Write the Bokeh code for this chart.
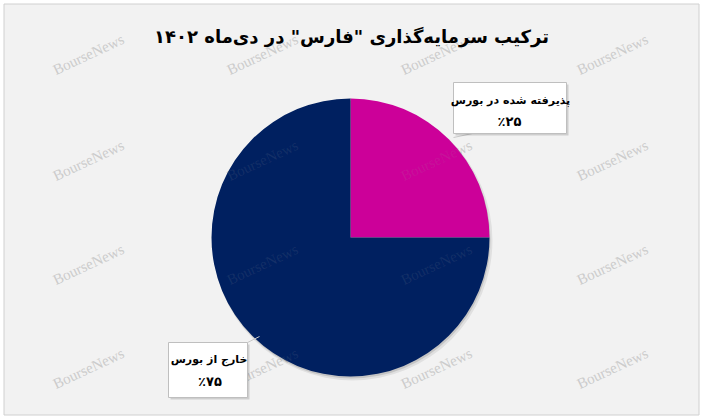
import math
from bokeh.plotting import figure
from bokeh.models import Range1d
from bokeh.core.properties import value
from bokeh.embed import file_html
from bokeh.resources import INLINE

# ---- data ----
title_text = 'ترکیب سرمایه‌گذاری "فارس" در دی‌ماه ۱۴۰۲'
categories = ["پذیرفته شده در بورس", "خارج از بورس"]
values = [25, 75]
pct_labels = ["٪۲۵", "٪۷۵"]
colors = ["#CC0099", "#002060"]
watermark = "BourseNews"

W, H = 702, 420
p = figure(width=W, height=H, output_backend="svg", toolbar_location=None,
           x_range=Range1d(0, W), y_range=Range1d(0, H),
           min_border=0, min_border_left=0, min_border_right=0,
           min_border_top=0, min_border_bottom=0)
p.axis.visible = False
p.grid.visible = False
p.background_fill_color = "white"
p.border_fill_color = "white"
p.outline_line_color = None


def Y(ry):
    return H - ry


# chart area with border
p.quad(left=[3.5], right=[698.5], top=[Y(3.5)], bottom=[Y(414.5)],
       fill_color="#f2f2f2", line_color="#d0d0d0", line_width=1)

# watermarks (under)
wx, wy = [], []
for ry in [54, 160, 264, 368]:
    for rx in [88, 262, 436, 612]:
        wx.append(rx)
        wy.append(Y(ry))
p.text(x=wx, y=wy, text=[watermark] * len(wx), angle=math.radians(25),
       text_font=value("Liberation Serif"), text_font_size="15px",
       text_color="#d3d3d3", text_align="center", text_baseline="middle")

# pie
cx, cy, r = 350, Y(237), 139
p.circle(x=[cx + 2], y=[cy - 3], radius=r + 1, fill_color="black",
         fill_alpha=0.07, line_color=None)
p.circle(x=[cx + 1], y=[cy - 2], radius=r, fill_color="black",
         fill_alpha=0.12, line_color=None)
total = sum(values)
start = math.pi / 2
for v, c in zip(values, colors):
    end = start - 2 * math.pi * v / total
    p.wedge(x=[cx], y=[cy], radius=r, start_angle=end, end_angle=start,
            direction="anticlock", fill_color=c, line_color=None)
    start = end

# watermarks (over, faint)
p.text(x=wx, y=wy, text=[watermark] * len(wx), angle=math.radians(25),
       text_font=value("Liberation Serif"), text_font_size="15px",
       text_color="#a0a0a0", text_alpha=0.12, text_align="center",
       text_baseline="middle")

# leader lines
p.line(x=[453, 472], y=[Y(137), Y(133)], line_color="#c8c8c8", line_width=1)
p.line(x=[247, 259], y=[Y(342), Y(336)], line_color="#c8c8c8", line_width=1)

# label boxes
boxes = [(453, 566, 82, 133), (168, 247, 342, 397)]
for (l, rr, t, b) in boxes:
    p.quad(left=[l + 2], right=[rr + 2], top=[Y(t + 2)], bottom=[Y(b + 2)],
           fill_color="black", fill_alpha=0.15, line_color=None)
    p.quad(left=[l], right=[rr], top=[Y(t)], bottom=[Y(b)],
           fill_color="white", line_color="#bfbfbf", line_width=1)

lx1 = [510, 208.5]
lx2 = [509, 209.5]
ly1 = [Y(100), Y(359)]
ly2 = [Y(121), Y(381)]
p.text(x=lx1, y=ly1, text=categories, text_font=value("DejaVu Sans"),
       text_font_style="bold", text_font_size="11px", text_color="black",
       text_align="center", text_baseline="middle")
p.text(x=lx2, y=ly2, text=pct_labels, text_font=value("DejaVu Sans"),
       text_font_style="bold", text_font_size="13px", text_color="black",
       text_align="center", text_baseline="middle")

# title
p.text(x=[351], y=[Y(36)], text=[title_text], text_font=value("DejaVu Sans"),
       text_font_style="bold", text_font_size="18px", text_color="black",
       text_align="center", text_baseline="middle")

open("out.html", "w").write(file_html(p, INLINE))
